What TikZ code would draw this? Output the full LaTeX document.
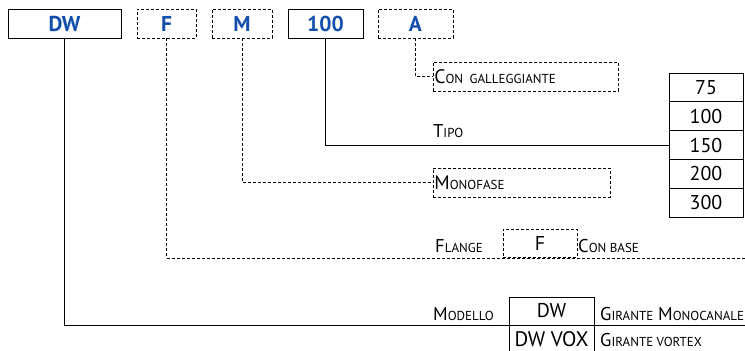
\documentclass[tikz,border=0pt]{standalone}
\usepackage{fontspec}
\setmainfont{PT Sans}
\usetikzlibrary{positioning}
\definecolor{codeblue}{RGB}{18,78,172}
\newcommand{\sccap}[2]{#1{\fontsize{13}{14}\selectfont #2}}
\tikzset{codebox/.style={draw,line width=1pt,minimum height=29pt,inner sep=0pt,
            font=\fontsize{21.5}{23}\selectfont\bfseries,text=codeblue},
        optbox/.style={draw,line width=0.8pt,dash pattern=on 3pt off 2pt,minimum height=29pt,inner sep=0pt},
        numcell/.style={draw,line width=1pt,minimum width=74pt,minimum height=28.8pt,inner sep=0pt,
            font=\fontsize{20}{22}\selectfont},
        lbl/.style={anchor=base west,inner sep=0pt,font=\fontsize{18.5}{20}\selectfont},
        optline/.style={line width=0.8pt,dash pattern=on 3pt off 2pt}
}
\begin{document}
\begin{tikzpicture}[x=1pt,y=-1pt]
           \useasboundingbox (0,0) rectangle (745,351);
           \clip (0,0) rectangle (745,351);
           \node[codebox,minimum width=113pt] (dwbox) at (64.5,23.5) {DW};
           \node[codebox,optbox,minimum width=59pt] (fbox) at (166.5,23.5) {F};
           \node[codebox,optbox,minimum width=60pt] (mbox) at (242,23.5) {M};
           \node[codebox,minimum width=75pt] (tipobox) at (325.5,23.5) {100};
           \node[codebox,optbox,minimum width=75pt] (abox) at (415.5,23.5) {A};
           \node[optbox,anchor=west,text width=183pt,inner xsep=1pt,align=left,font=\fontsize{19.5}{20}\selectfont] (conbox) at (433,76.5) {\sccap{C}{ON GALLEGGIANTE}};
           \node[optbox,anchor=west,text width=175pt,inner xsep=1pt,align=left,font=\fontsize{19.5}{20}\selectfont] (monobox) at (433,182.5) {\sccap{M}{ONOFASE}};
           \foreach \v [count=\i] in {75,100,150,200,300}
               \node[numcell] (t\v) at (706,58.6+28.8*\i) {\v};
           \node[lbl] (lbltipo) at (433,137) {\sccap{T}{IPO}};
           \node[lbl] (lblflange) at (435,252) {\sccap{F}{LANGE}};
           \node[optbox,minimum width=74pt,minimum height=28pt,font=\fontsize{20}{22}\selectfont] (flbox) at (540,243) {F};
           \node[lbl] (lblbase) at (578,252) {\sccap{C}{ON BASE}};
           \node[lbl] (lblmodello) at (433,320) {\sccap{M}{ODELLO}};
           \node[numcell,minimum width=85pt,minimum height=28pt] (dwcell) at (551.5,311) {DW};
           \node[numcell,minimum width=85pt,minimum height=28pt,font=\fontsize{21}{22}\selectfont] (voxcell) at (551.5,339) {DW VOX};
           \node[lbl] (lblmono) at (600,320) {\sccap{G}{IRANTE} \sccap{M}{ONOCANALE}};
           \node[lbl] (lblvortex) at (600,346) {\sccap{G}{IRANTE VORTEX}};
           \coordinate (modend) at (745,325);
           \coordinate (flend) at (745,258);
           \draw[line width=1pt] (dwbox.south) |- (modend);
           \draw[optline] (fbox.south) |- (flend);
           \draw[optline] (mbox.south) |- (monobox.west);
           \draw[line width=1pt] (tipobox.south) |- (t150.west);
           \draw[optline] (abox.south) |- (conbox.west);
\end{tikzpicture}
\end{document}
